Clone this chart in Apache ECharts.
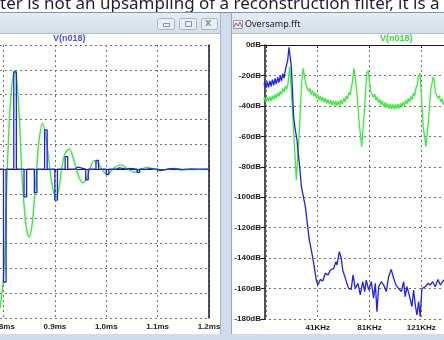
<!DOCTYPE html>
<html>
<head>
<meta charset="utf-8">
<script src="https://cdn.jsdelivr.net/npm/echarts@6/dist/echarts.min.js"></script>
<style>
html, body { margin: 0; padding: 0; background: #ffffff; }
#c { width: 444px; height: 340px; }
</style>
</head>
<body>
<div id="c"></div>
<script>
// ---- Transient view: V(n018), time in ms, amplitude in grid divisions ----
const timeTicks = [0.8, 0.9, 1.0, 1.1, 1.2];

// sample-and-hold pulses (start time, height)
const pulseStart = [0.80, 0.82, 0.84, 0.86, 0.88, 0.90, 0.92, 0.94, 0.96, 0.98,
                    1.00, 1.02, 1.04, 1.06, 1.08, 1.10, 1.12, 1.14, 1.16, 1.18];
const pulseAmp   = [-4.55, 3.92, -1.12, -0.95, 1.58, -1.25, 0.50, 0.08, -0.43, 0.35,
                    -0.21, 0.05, 0.03, -0.13, 0.02, -0.06, 0.02, -0.03, 0.01, 0];
const pulseWidth = 0.005;

// filtered response
const filtT = [0.7932, 0.7996, 0.8029, 0.8074, 0.8126, 0.8175, 0.8223, 0.8262, 0.8311, 0.8353,
               0.8398, 0.8447, 0.8501, 0.8553, 0.8602, 0.8645, 0.8689, 0.8761, 0.8825, 0.8903,
               0.8961, 0.9019, 0.9078, 0.9130, 0.9194, 0.9278, 0.9350, 0.9417, 0.9485, 0.9550,
               0.9621, 0.9680, 0.9763, 0.9835, 0.9913, 1.0023, 1.0126, 1.0282, 1.0417, 1.0553,
               1.0670, 1.0792, 1.0922, 1.1072, 1.1194, 1.1330, 1.1466, 1.1621, 1.2000];
const filtV = [-5.6, -4.5, -3.2, 0, 2.4, 3.6, 3.97, 3.5, 2.0, 0,
               -1.4, -2.4, -2.75, -2.3, -1.2, 0, 1.1, 1.85, 1.3, 0,
               -0.8, -1.15, -0.8, 0, 0.6, 0.81, 0.5, 0, -0.4, -0.55,
               -0.35, 0, 0.34, 0.25, 0, -0.23, 0, 0.17, 0, -0.13,
               0, 0.07, 0, -0.05, 0, 0.03, 0, -0.02, 0];

// ---- Spectrum view: Oversamp.fft, frequency in kHz, level in dB ----
const freqTicks = [1, 41, 81, 121, 161];

// held (stair-step) signal spectrum
const heldF  = [-0.5, 0, 1, 2, 3, 4, 5, 6, 7, 8, 9, 10, 11, 12, 13, 14, 15, 16, 17, 17.8,
                18.8, 20.6, 21.5, 22.4, 23.7, 25, 25.8, 26.8, 28.4, 31.4, 34.5, 36.1, 37.9, 39.9, 41.2,
                43, 44.9, 46.9, 49, 50.7, 53.4, 55.1, 55.9, 57.7, 59.2, 60.3, 61.9, 63.6, 64.9, 66.9,
                68.3, 70, 72.1, 73.9, 75.8, 77.3, 78.5, 80.4, 82.4, 84.2, 85.5, 86.8, 88.1, 90.1, 92,
                94, 95.8, 97.8, 99.7, 101.5, 103.6, 105.6, 107.4, 108.6, 110, 111.7, 113.8, 115.1, 116.4, 117.7,
                119, 120.2, 121.5, 124.1, 126.2, 128, 129.8, 131.8, 133.9, 135.7, 138.3, 141, 145, 150,
                155, 161];
const heldDb = [-26, -24.5, -28.3, -24, -27.8, -23.5, -27.2, -22.8, -26.5, -22, -25.7, -21.2, -24.7, -20.2, -23.5, -18.8, -21.8, -16.5, -17, -10,
                -1.5, -14, -30, -47, -56, -62.4, -70, -77.7, -93, -106, -128, -134.7, -143.4, -154.4, -157.7,
                -154, -155, -150, -151, -148, -146.7, -142.3, -144.5, -135.8, -140, -147.8, -152, -156.6, -159.9, -160.5,
                -151, -159.9, -156.6, -164.2, -155.5, -162, -154.4, -161, -155.5, -166.4, -156.6, -175.2, -158.8, -155.5, -157.7,
                -162, -152.2, -147.4, -153.3, -157.7, -160, -162, -155.5, -165.3, -158.8, -164.2, -171.9, -161, -170.8, -177.4,
                -168.6, -178.5, -160, -158.8, -156.6, -157.7, -155.5, -158.8, -154, -157.7, -154.4, -156, -158, -155,
                -157, -156];

// filtered output spectrum (image lobes around multiples of the sample rate)
const imgF = [-0.5, 0, 1, 2, 3, 4, 5, 6, 7, 8, 9, 10, 11, 12, 13, 14, 15, 16, 17, 18,
              18.6, 19.4, 20.6, 21.9, 23.2, 24.5, 25.3, 26.6, 27.7, 28.6, 29.7, 30.5,
              31, 32, 33, 34, 35, 36, 37, 38, 39, 40, 41, 42, 43, 44, 45, 46, 47, 48, 49,
              50, 51, 52, 53, 54, 55, 56, 57, 58, 59, 60, 61, 62, 63, 64, 65, 66, 67, 67.5,
              69, 71.1, 73.1, 75, 76.8, 78.9, 80.1,
              81, 82, 83, 84, 85, 86, 87, 88, 89, 90, 91, 92, 93, 94, 95, 96, 97, 98, 99,
              100, 101, 102, 103, 104, 105, 106, 107, 108, 109, 110, 111, 112, 113, 114, 115, 116, 117, 118,
              118.7, 120, 121.3, 122.5, 124.6, 126.4, 128.3, 130.3,
              131, 132, 133, 134, 135, 136, 137, 138, 139, 140, 141, 142, 143, 144, 145, 146, 147, 148, 149,
              150, 152, 154, 156, 158, 161];
const imgDb = [-36, -34.5, -37.5, -34.3, -37.2, -34, -36.7, -33.3, -35.9, -32.5, -35, -31.5, -33.9, -30.3, -32.5, -28.5, -30.8, -27, -29.1, -25.5,
               -26.3, -14.2, -29.6, -49, -69, -88.7, -89.8, -60, -40, -25, -15.3, -19,
               -19.5, -26.5, -26, -30.5, -28.5, -32.3, -30, -33.7, -31.3, -34.9, -32.5, -36, -33.5, -36.9, -34.3, -37.6, -35, -38.4, -35.7,
               -39, -36.3, -39.5, -36.7, -39.8, -36.9, -39.9, -36.8, -39.6, -36.2, -38.7, -35.1, -37.3, -33.4, -35.5, -31.3, -32.7, -28.1, -26,
               -15.3, -29.6, -51.4, -66.8, -47, -18.6, -16.9,
               -24, -30.5, -30, -34.3, -32.3, -36.3, -34.1, -37.9, -35.7, -39.3, -36.8, -40.3, -37.7, -41.1, -38.4, -41.7, -38.9, -42, -39.1,
               -42.1, -39.1, -42, -38.8, -41.6, -38.3, -40.9, -37.5, -40, -36.4, -38.7, -35.1, -37.5, -33.7, -35.8, -31.7, -33.3, -28, -26,
               -20.8, -18.6, -36, -53.7, -66.8, -51.4, -29.6, -20.8,
               -23.5, -31.1, -30.5, -35, -33.3, -37.3, -35.3, -39.1, -36.8, -40.5, -38, -41.5, -39, -42.3, -39.5, -42.9, -40, -43.3, -40.5,
               -43.6, -40.7, -43.5, -40.4, -43, -40];

// polyline for the held pulses
function heldWave() {
  const pts = [[filtT[0], 0]];
  for (let i = 0; i < pulseStart.length; i++) {
    const s = pulseStart[i], a = pulseAmp[i];
    pts.push([s, 0], [s, a], [s + pulseWidth, a], [s + pulseWidth, 0]);
  }
  pts.push([timeTicks[timeTicks.length - 1], 0]);
  return pts;
}
const zip = (xs, ys) => xs.map((x, i) => [x, ys[i]]);

const GREEN = '#35ee35';
const BLUE = '#2020ee';
const AXIS = '#1a1a1a';
const GRIDC = '#707070';
const labelFont = { color: '#1a1a1a', fontFamily: 'Liberation Sans, Arial, sans-serif', fontWeight: 'bold', fontSize: 8 };
const dashed = { show: true, lineStyle: { color: GRIDC, type: [2, 3], width: 1 } };
const barGrad = () => new echarts.graphic.LinearGradient(0, 0, 0, 1, [
  { offset: 0, color: '#e6edf5' }, { offset: 1, color: '#d3dde9' }]);

const chart = echarts.init(document.getElementById('c'), null, { renderer: 'canvas' });

chart.setOption({
  animation: false,
  backgroundColor: '#ffffff',
  grid: [
    { left: 0, top: 45, width: 209, height: 273, outerBoundsMode: 'none', containLabel: false },
    { left: 264, top: 45, width: 209, height: 274, outerBoundsMode: 'none', containLabel: false }
  ],
  xAxis: [
    { gridIndex: 0, type: 'value', min: 0.7932, max: 1.2,
      axisLine: { show: true, lineStyle: { color: AXIS, width: 1.2 } },
      axisTick: { show: true, length: 3, customValues: timeTicks, lineStyle: { color: AXIS } },
      axisLabel: Object.assign({ customValues: timeTicks, margin: 5, formatter: v => v.toFixed(1) + 'ms' }, labelFont),
      splitLine: dashed },
    { gridIndex: 0, type: 'value', position: 'top', min: 0.7932, max: 1.2,
      axisLine: { show: true, lineStyle: { color: AXIS, width: 1.2 } },
      axisTick: { show: false }, axisLabel: { show: false }, splitLine: { show: false } },
    { gridIndex: 1, type: 'value', min: -0.5, max: 161,
      axisLine: { show: true, lineStyle: { color: AXIS, width: 1.2 } },
      axisTick: { show: true, length: 3, customValues: freqTicks, lineStyle: { color: AXIS } },
      axisLabel: Object.assign({ customValues: freqTicks.slice(1), margin: 5, formatter: v => v + 'KHz' }, labelFont),
      splitLine: dashed },
    { gridIndex: 1, type: 'value', position: 'top', min: -0.5, max: 161,
      axisLine: { show: true, lineStyle: { color: AXIS, width: 1.2 } },
      axisTick: { show: false }, axisLabel: { show: false }, splitLine: { show: false } }
  ],
  yAxis: [
    { gridIndex: 0, type: 'value', min: -6, max: 5, interval: 1,
      axisLine: { show: false }, axisTick: { show: false }, axisLabel: { show: false },
      splitLine: dashed },
    { gridIndex: 0, type: 'value', position: 'right', min: -6, max: 5, interval: 1,
      axisLine: { show: true, lineStyle: { color: AXIS, width: 1.5 } },
      axisTick: { show: false }, axisLabel: { show: false }, splitLine: { show: false } },
    { gridIndex: 1, type: 'value', min: -180, max: 0, interval: 20,
      axisLine: { show: true, lineStyle: { color: AXIS, width: 1.5 } },
      axisTick: { show: true, length: 4, lineStyle: { color: AXIS } },
      axisLabel: Object.assign({ margin: 3, formatter: v => v + 'dB' }, labelFont),
      splitLine: dashed }
  ],
  series: [
    { name: 'V(n018)', type: 'line', xAxisIndex: 0, yAxisIndex: 0, data: zip(filtT, filtV),
      smooth: 0.35, showSymbol: false, lineStyle: { color: GREEN, width: 1.4 } },
    { name: 'V(n018)', type: 'line', xAxisIndex: 0, yAxisIndex: 0, data: heldWave(),
      showSymbol: false, lineStyle: { color: BLUE, width: 1.3 } },
    { name: 'V(n018)', type: 'line', xAxisIndex: 2, yAxisIndex: 2, data: zip(imgF, imgDb),
      showSymbol: false, lineStyle: { color: GREEN, width: 1.3 } },
    { name: 'V(n018)', type: 'line', xAxisIndex: 2, yAxisIndex: 2, data: zip(heldF, heldDb),
      showSymbol: false, lineStyle: { color: BLUE, width: 1.3 } }
  ],
  graphic: [
    // top text strip
    { type: 'text', left: 0, top: -4, z: 100,
      style: { text: 'ter is not an upsampling of a reconstruction filter, it is a', fill: '#1e1e30',
               font: '17px "Noto Sans", sans-serif' } },
    // left window title bar
    { type: 'rect', shape: { x: 0, y: 12, width: 221, height: 22 }, z: 100, style: { fill: barGrad(), stroke: null } },
    { type: 'line', shape: { x1: 0, y1: 12.5, x2: 221, y2: 12.5 }, z: 101, style: { stroke: '#8393a8', lineWidth: 1 } },
    { type: 'line', shape: { x1: 0, y1: 33.5, x2: 221, y2: 33.5 }, z: 101, style: { stroke: '#b4bfcc', lineWidth: 1 } },
    // window buttons
    { type: 'rect', shape: { x: 157.5, y: 18.5, width: 17, height: 11, r: 2 }, z: 101, style: { fill: '#e9eef4', stroke: '#aab4c2' } },
    { type: 'rect', shape: { x: 163.5, y: 23.5, width: 6, height: 3 }, z: 102, style: { fill: null, stroke: '#8a94a2' } },
    { type: 'rect', shape: { x: 179.5, y: 18.5, width: 17, height: 11, r: 2 }, z: 101, style: { fill: '#e9eef4', stroke: '#aab4c2' } },
    { type: 'rect', shape: { x: 185.5, y: 21.5, width: 6, height: 5 }, z: 102, style: { fill: null, stroke: '#8a94a2' } },
    { type: 'rect', shape: { x: 201.5, y: 18.5, width: 16, height: 11, r: 2 }, z: 101, style: { fill: '#e9eef4', stroke: '#aab4c2' } },
    { type: 'text', left: 205, top: 18, z: 102, style: { text: 'x', fill: '#8a94a2', font: 'bold 10px "DejaVu Sans", sans-serif' } },
    // frame between windows
    { type: 'rect', shape: { x: 220, y: 12, width: 12, height: 328 }, z: 100, style: { fill: '#d0dceb', stroke: null } },
    { type: 'line', shape: { x1: 220.5, y1: 12, x2: 220.5, y2: 334 }, z: 101, style: { stroke: '#aab6c4', lineWidth: 1 } },
    { type: 'line', shape: { x1: 231.5, y1: 13, x2: 231.5, y2: 334 }, z: 101, style: { stroke: '#9aa8b8', lineWidth: 1 } },
    // right window title bar with document icon
    { type: 'rect', shape: { x: 232, y: 12, width: 212, height: 22 }, z: 100, style: { fill: barGrad(), stroke: null } },
    { type: 'line', shape: { x1: 220, y1: 12.5, x2: 444, y2: 12.5 }, z: 101, style: { stroke: '#8393a8', lineWidth: 1 } },
    { type: 'line', shape: { x1: 232, y1: 33.5, x2: 444, y2: 33.5 }, z: 101, style: { stroke: '#b4bfcc', lineWidth: 1 } },
    { type: 'rect', shape: { x: 233.5, y: 20.5, width: 9, height: 8 }, z: 101, style: { fill: '#eef0f4', stroke: '#9a9aa8' } },
    { type: 'polyline', shape: { points: [[234, 27], [236, 23], [238, 26], [240, 22], [242, 27]] }, z: 102,
      style: { fill: null, stroke: '#a0527a', lineWidth: 1 } },
    { type: 'text', left: 245, top: 20, z: 102, style: { text: 'Oversamp.fft', fill: '#222', font: '9px "Noto Sans", sans-serif' } },
    // bottom frame
    { type: 'rect', shape: { x: 0, y: 334, width: 444, height: 6 }, z: 100, style: { fill: '#d0dceb', stroke: null } },
    // trace titles
    { type: 'text', left: 53, top: 34, z: 102, style: { text: 'V(n018)', fill: '#4d4dff', font: 'bold 9px "Liberation Sans", Arial, sans-serif' } },
    { type: 'text', left: 380, top: 34, z: 102, style: { text: 'V(n018)', fill: '#35e035', font: 'bold 9px "Liberation Sans", Arial, sans-serif' } }
  ]
});
</script>
</body>
</html>
